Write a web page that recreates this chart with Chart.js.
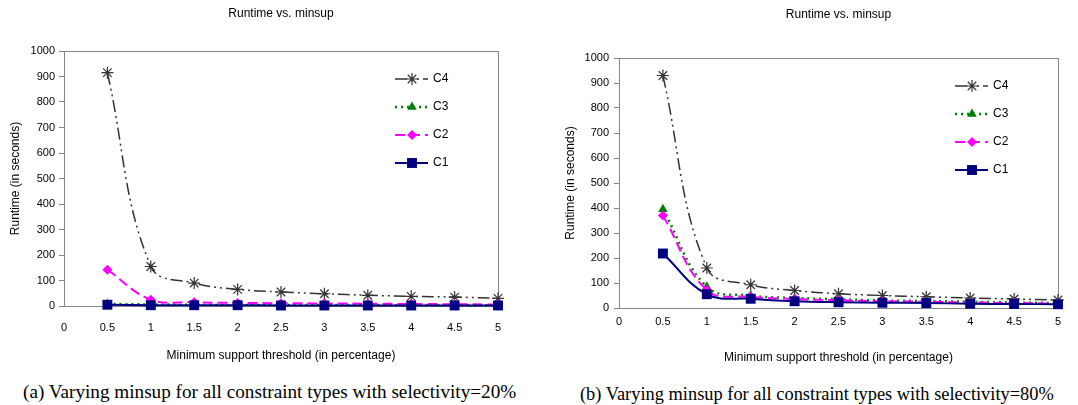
<!DOCTYPE html>
<html>
<head>
<meta charset="utf-8">
<script src="https://cdn.jsdelivr.net/npm/chart.js@4"></script>
<style>
  body { margin: 0; background: #fff; }
  #wrap { position: relative; width: 1078px; height: 405px; overflow: hidden; }
  .box { position: absolute; top: 0; height: 372px; }
  .cap { position: absolute; font-family: "Liberation Serif", "DejaVu Serif", serif; color: #000; white-space: nowrap; line-height: 22px; }
</style>
</head>
<body>
<div id="wrap">
  <div class="box" style="left:0;width:540px"><canvas id="chartA"></canvas></div>
  <div class="box" style="left:540px;width:538px"><canvas id="chartB"></canvas></div>
  <div class="cap" style="left:23px;top:381px;font-size:19.2px">(a) Varying minsup for all constraint types with selectivity=20%</div>
  <div class="cap" style="left:580px;top:383px;font-size:18.4px">(b) Varying minsup for all constraint types with selectivity=80%</div>
</div>
<script>
// minimum support threshold (%)
const minsup = [0.5, 1, 1.5, 2, 2.5, 3, 3.5, 4, 4.5, 5];

// selectivity = 20%
const c4_20 = [915, 155, 90, 65, 55, 48, 42, 38, 35, 30];
const c3_20 = [8, 6, 5, 4, 4, 4, 3, 3, 3, 3];
const c2_20 = [142, 25, 15, 12, 11, 10, 9, 8, 7, 6];
const c1_20 = [5, 3, 3, 3, 2, 2, 2, 2, 2, 2];

// selectivity = 80%
const c4_80 = [930, 160, 93, 70, 57, 50, 45, 40, 36, 32];
const c3_80 = [395, 85, 50, 40, 35, 30, 28, 25, 22, 20];
const c2_80 = [370, 72, 45, 36, 31, 27, 25, 22, 20, 18];
const c1_80 = [218, 55, 37, 27, 23, 21, 20, 17, 16, 15];

const seriesNames = ['C4', 'C3', 'C2', 'C1'];
const xTicks = [0, 0.5, 1, 1.5, 2, 2.5, 3, 3.5, 4, 4.5, 5];

const FONT = "'Liberation Sans', Arial, sans-serif";
const AXIS_GRAY = '#868686';

const styles = {
  C4: { color: '#333333', dash: [12, 4, 2, 4, 2, 4], width: 1.5, point: 'star', r: 6, fill: false, order: 3 },
  C3: { color: '#008000', dash: [2, 4], width: 2.5, point: 'triangle', r: 5.5, fill: true, order: 2 },
  C2: { color: '#ff00ff', dash: [10, 5], width: 2, point: 'rectRot', r: 5, fill: true, order: 1 },
  C1: { color: '#000080', dash: [], width: 2, point: 'rect', r: 7, fill: true, order: 0 }
};

function makeDataset(name, values) {
  const s = styles[name];
  return {
    label: name,
    data: minsup.map((x, i) => ({ x: x, y: values[i] })),
    borderColor: s.color,
    borderWidth: s.width,
    borderDash: s.dash,
    pointStyle: s.point,
    pointRadius: s.r,
    pointBackgroundColor: s.fill ? s.color : 'rgba(0,0,0,0)',
    pointBorderColor: s.color,
    pointBorderWidth: s.fill ? 0 : 1.2,
    tension: 0.4,
    clip: false,
    order: s.order,
    fill: false
  };
}

// box around the plot area + legend inside it
const framePlugin = {
  id: 'frame',
  beforeDatasetsDraw(chart) {
    const a = chart.chartArea;
    const ctx = chart.ctx;
    ctx.save();
    ctx.strokeStyle = AXIS_GRAY;
    ctx.lineWidth = 1;
    ctx.strokeRect(Math.round(a.left) + 0.5, Math.round(a.top) + 0.5, Math.round(a.right - a.left), Math.round(a.bottom - a.top));
    ctx.restore();
  },
  afterDraw(chart) {
    const a = chart.chartArea;
    const ctx = chart.ctx;
    const x0 = a.right - 103;
    let y = a.top + 28;
    seriesNames.forEach(name => {
      const ds = chart.data.datasets.find(d => d.label === name);
      ctx.save();
      ctx.strokeStyle = ds.borderColor;
      ctx.lineWidth = ds.borderWidth;
      ctx.setLineDash(ds.borderDash);
      ctx.beginPath();
      ctx.moveTo(x0, y);
      ctx.lineTo(x0 + 33, y);
      ctx.stroke();
      ctx.setLineDash([]);
      ctx.fillStyle = ds.pointBackgroundColor;
      ctx.strokeStyle = ds.pointBorderColor;
      ctx.lineWidth = ds.pointBorderWidth;
      Chart.helpers.drawPoint(ctx, { pointStyle: ds.pointStyle, radius: ds.pointRadius, borderWidth: ds.pointBorderWidth, rotation: 0 }, x0 + 17, y);
      ctx.fillStyle = '#000';
      ctx.font = '12px ' + FONT;
      ctx.textBaseline = 'middle';
      ctx.textAlign = 'left';
      ctx.fillText(name, x0 + 38, y);
      ctx.restore();
      y += 28;
    });
  }
};

function makeChart(id, sets, cfg) {
  return new Chart(document.getElementById(id), {
    type: 'line',
    data: {
      datasets: [
        makeDataset('C4', sets[0]),
        makeDataset('C3', sets[1]),
        makeDataset('C2', sets[2]),
        makeDataset('C1', sets[3])
      ]
    },
    options: {
      responsive: false,
      animation: false,
      layout: { padding: { left: cfg.padLeft, right: cfg.padRight, top: 0, bottom: 0 } },
      plugins: {
        legend: { display: false },
        tooltip: { enabled: false },
        title: {
          display: true,
          text: 'Runtime vs. minsup',
          fullSize: false,
          color: '#000',
          font: { family: FONT, size: 12, weight: 'normal' },
          padding: { top: cfg.titleTop, bottom: cfg.titleBottom }
        }
      },
      scales: {
        x: {
          type: 'linear',
          min: 0,
          max: 5,
          afterBuildTicks: scale => { scale.ticks = xTicks.map(v => ({ value: v })); },
          afterFit: scale => { scale.height = cfg.xHeight; },
          grid: { display: true, drawOnChartArea: false, drawTicks: false, color: AXIS_GRAY },
          border: { display: true, color: AXIS_GRAY },
          ticks: {
            color: '#000', padding: cfg.xTickPad, maxRotation: 0, autoSkip: false,
            font: { family: FONT, size: 11 },
            callback: v => String(v)
          },
          title: {
            display: true,
            text: 'Minimum support threshold (in percentage)',
            color: '#000',
            font: { family: FONT, size: 12 },
            padding: { top: 0, bottom: cfg.xTitlePad }
          }
        },
        y: {
          min: 0,
          max: 1000,
          ticks: {
            stepSize: 100, color: '#000', padding: cfg.yTickPad,
            font: { family: FONT, size: 11 },
            callback: v => String(v)
          },
          afterFit: scale => { scale.width = cfg.yWidth; },
          grid: { display: true, drawOnChartArea: false, drawTicks: true, tickLength: 5, color: AXIS_GRAY },
          border: { display: true, color: AXIS_GRAY },
          title: {
            display: true,
            text: 'Runtime (in seconds)',
            color: '#000',
            font: { family: FONT, size: 12 },
            padding: { top: cfg.yTitlePad, bottom: 0 }
          }
        }
      }
    },
    plugins: [framePlugin]
  });
}

const cA = document.getElementById('chartA');
cA.width = 540; cA.height = 372;
const cB = document.getElementById('chartB');
cB.width = 538; cB.height = 372;

makeChart('chartA', [c4_20, c3_20, c2_20, c1_20], {
  padLeft: 0, padRight: 42, titleTop: 6, titleBottom: 30.6,
  xHeight: 66, xTickPad: 15, xTitlePad: 9,
  yWidth: 64, yTickPad: 4, yTitlePad: 8.8
});

makeChart('chartB', [c4_80, c3_80, c2_80, c1_80], {
  padLeft: 16, padRight: 20, titleTop: 7, titleBottom: 36.6,
  xHeight: 64, xTickPad: 7.4, xTitlePad: 7,
  yWidth: 63, yTickPad: 5, yTitlePad: 7.8
});
</script>
</body>
</html>
